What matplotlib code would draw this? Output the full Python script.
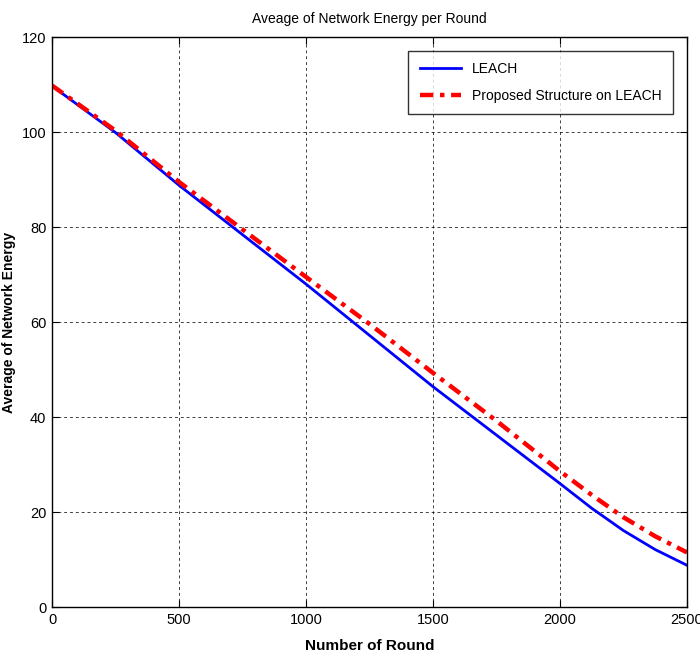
import matplotlib
matplotlib.use("Agg")
import matplotlib.pyplot as plt

# values
rounds = [0, 250, 500, 750, 1000, 1250, 1500, 1750, 2000, 2125, 2250, 2375, 2500]
leach = [109.7, 99.9, 88.8, 78.4, 68.0, 57.2, 46.4, 36.2, 26.0, 20.8, 16.1, 12.1, 8.8]
proposed = [109.8, 100.3, 89.5, 79.5, 69.5, 59.6, 49.3, 39.2, 28.6, 23.6, 18.9, 14.9, 11.5]

xticks = [0, 500, 1000, 1500, 2000, 2500]
yticks = [0, 20, 40, 60, 80, 100, 120]

narrow = ["Liberation Sans", "DejaVu Sans"]

fig = plt.figure(figsize=(7, 6.62), dpi=100)
ax = fig.add_axes([0.0743, 0.083, 0.9071, 0.861])

ax.plot(rounds, leach, color="blue", lw=2, label="LEACH")
ax.plot(rounds, proposed, color="red", lw=3.2, linestyle=(0, (3, 1.5, 1, 1.5)),
        label="Proposed Structure on LEACH")

ax.set_xlim(0, 2500)
ax.set_ylim(0, 120)
ax.set_xticks(xticks)
ax.set_yticks(yticks)
ax.tick_params(direction="in", top=True, right=True, length=5, labelsize=10.5, pad=4)
for lab in ax.get_xticklabels() + ax.get_yticklabels():
    lab.set_family(narrow)
ax.grid(True, color="black", linestyle=(0, (3, 3)), linewidth=0.7, alpha=0.75)
for s in ax.spines.values():
    s.set_linewidth(1.0)

ax.set_title("Aveage of Network Energy per Round", family=narrow, fontsize=10, pad=10)
ax.set_xlabel("Number of Round", family=narrow, fontsize=11, fontweight="bold", labelpad=9)
ax.set_ylabel("Average of Network Energy", family=narrow, fontsize=10, fontweight="bold")
ax.yaxis.set_label_coords(-0.056, 0.5)

leg = ax.legend(loc="upper right", prop={"family": narrow, "size": 10},
                frameon=True, fancybox=False, edgecolor="black",
                borderaxespad=1.0, handlelength=3.0, labelspacing=0.9,
                borderpad=0.8)
leg.get_frame().set_linewidth(1.0)

fig.savefig("out.png", dpi=100)
